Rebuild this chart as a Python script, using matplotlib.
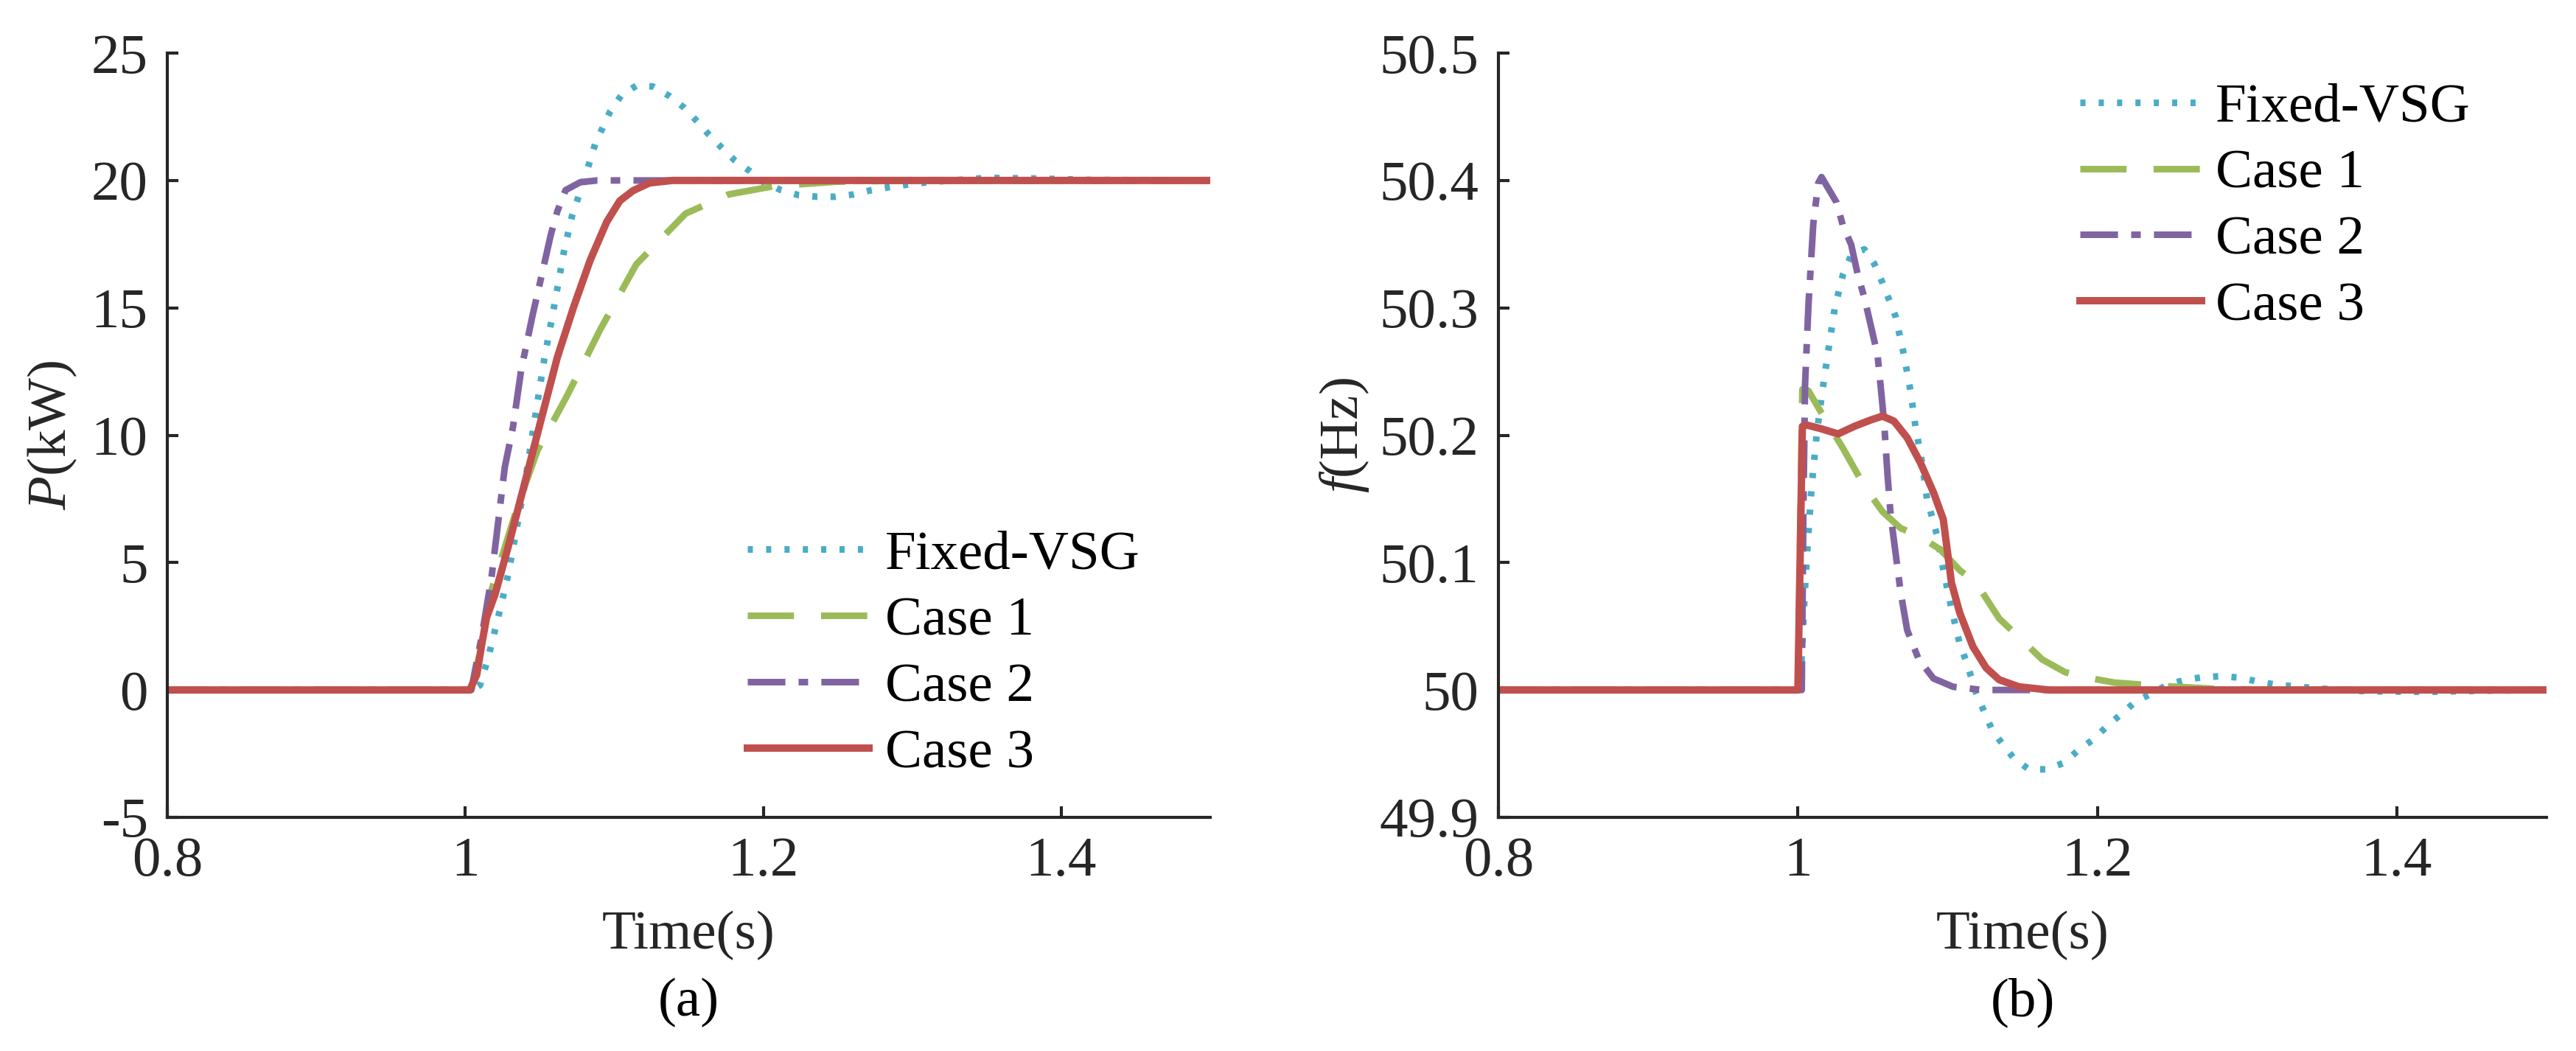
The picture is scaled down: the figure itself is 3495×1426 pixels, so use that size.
import matplotlib
matplotlib.use("Agg")
from matplotlib import pyplot as plt

# ---- data ----
# (a) active power P (kW)
t_p_fixed = [0.8, 1.005, 1.0099, 1.0154, 1.0231, 1.0287, 1.0397, 1.0474, 1.053, 1.0596, 1.0662,
             1.0717, 1.0794, 1.0872, 1.0971, 1.1048, 1.1148, 1.1258, 1.1368, 1.1468, 1.1556,
             1.1633, 1.1722, 1.181, 1.1909, 1.1998, 1.2119, 1.224, 1.2362, 1.2484, 1.2605,
             1.2727, 1.2837, 1.296, 1.309, 1.3223, 1.35, 1.38, 1.42, 1.5]
p_fixed = [0, 0, 0.19, 1.27, 3.1, 4.51, 8.0, 10.9, 12.98, 15.05, 17.21,
           18.62, 19.95, 21.44, 22.69, 23.35, 23.72, 23.69, 23.32, 22.86, 22.32,
           21.81, 21.28, 20.78, 20.37, 19.95, 19.62, 19.42, 19.36, 19.36, 19.45,
           19.62, 19.73, 19.83, 19.92, 19.98, 20.1, 20.08, 20.02, 20.0]

t_p_case1 = [0.8, 1.004, 1.01, 1.0176, 1.0353, 1.0485, 1.0684, 1.0905, 1.1148, 1.1479,
             1.1766, 1.2075, 1.249, 1.3, 1.5]
p_case1 = [0, 0, 1.5, 3.92, 7.25, 9.41, 11.56, 14.14, 16.71, 18.7,
           19.45, 19.78, 19.95, 20.0, 20.0]

t_p_case2 = [0.8, 1.004, 1.011, 1.0176, 1.0265, 1.032, 1.0375, 1.0452, 1.0507, 1.0574,
             1.0618, 1.0673, 1.0772, 1.0883, 1.5]
p_case2 = [0, 0, 2.1, 4.42, 8.74, 10.32, 12.56, 14.72, 16.13, 17.87,
           18.79, 19.62, 19.93, 20.0, 20.0]

t_p_case3 = [0.8, 1.003, 1.0077, 1.011, 1.0143, 1.02, 1.0287, 1.0397, 1.0507, 1.0618,
             1.0728, 1.0839, 1.0949, 1.1037, 1.1126, 1.1236, 1.139, 1.5]
p_case3 = [0, 0, 0.6, 1.77, 2.85, 3.76, 5.6, 8.08, 10.57, 13.06,
           15.05, 16.88, 18.37, 19.2, 19.6, 19.9, 20.0, 20.0]

# (b) frequency f (Hz)
t_f_fixed = [0.8, 1.0015, 1.0026, 1.0048, 1.0066, 1.0092, 1.0125, 1.0158, 1.0191, 1.0246,
             1.0301, 1.0356, 1.0444, 1.051, 1.0565, 1.0653, 1.0708, 1.0752, 1.0785, 1.0829,
             1.0862, 1.0928, 1.0972, 1.1026, 1.1081, 1.1125, 1.1191, 1.1301, 1.1444, 1.1543,
             1.1664, 1.1774, 1.1873, 1.1971, 1.206, 1.2158, 1.2257, 1.2367, 1.2466, 1.2587,
             1.2708, 1.2828, 1.2949, 1.3081, 1.3202, 1.35, 1.38, 1.42, 1.46, 1.5]
f_fixed = [50.0, 50.0, 50.029, 50.0806, 50.1154, 50.16, 50.2, 50.23, 50.2566, 50.2997,
           50.326, 50.3413, 50.346, 50.3346, 50.3197, 50.293, 50.2632, 50.235, 50.207, 50.1785,
           50.1503, 50.122, 50.094, 50.0639, 50.036, 50.0224, 49.9975, 49.9676, 49.946, 49.9377,
           49.9377, 49.9427, 49.9527, 49.961, 49.971, 49.981, 49.991, 49.9975, 50.004, 50.008,
           50.0101, 50.0108, 50.0097, 50.0064, 50.004, 50.001, 49.999, 49.9985, 49.9995, 50.0]

t_f_case1 = [0.8, 1.0, 1.003, 1.007, 1.018, 1.03, 1.0444, 1.0565, 1.0686, 1.0807, 1.095,
             1.1081, 1.1191, 1.1345, 1.1499, 1.1631, 1.1784, 1.1916, 1.2114, 1.2378, 1.2773,
             1.32, 1.5]
f_case1 = [50.0, 50.0, 50.236, 50.235, 50.213, 50.19, 50.16, 50.14, 50.127, 50.121, 50.1104,
           50.094, 50.084, 50.056, 50.039, 50.024, 50.014, 50.01, 50.0058, 50.0035, 50.001,
           50.0, 50.0]

t_f_case2 = [0.8, 1.0, 1.0026, 1.0037, 1.0048, 1.0071, 1.0103, 1.0136, 1.0158, 1.0257,
             1.0301, 1.0356, 1.04, 1.0444, 1.0499, 1.0532, 1.0554, 1.0576, 1.0598, 1.062,
             1.0653, 1.0686, 1.073, 1.0807, 1.0906, 1.1037, 1.1235, 1.5]
f_case2 = [50.0, 50.0, 50.0, 50.1436, 50.24, 50.303, 50.366, 50.398, 50.4027, 50.383,
           50.3645, 50.3496, 50.326, 50.308, 50.28, 50.263, 50.237, 50.21, 50.17, 50.137,
           50.107, 50.077, 50.047, 50.024, 50.009, 50.0025, 50.0, 50.0]

t_f_case3 = [0.8, 1.0, 1.003, 1.0059, 1.0158, 1.0268, 1.0378, 1.0488, 1.0565, 1.0642,
             1.073, 1.0818, 1.0906, 1.0971, 1.0993, 1.1026, 1.1081, 1.1169, 1.1257, 1.1345,
             1.1477, 1.1675, 1.5]
f_case3 = [50.0, 50.0, 50.207, 50.208, 50.205, 50.201, 50.207, 50.212, 50.215, 50.211,
           50.198, 50.1785, 50.155, 50.134, 50.114, 50.084, 50.0606, 50.034, 50.0174, 50.008,
           50.0025, 50.0, 50.0]

x_ticks = [0.8, 1.0, 1.2, 1.4]
x_ticklabels = ["0.8", "1", "1.2", "1.4"]
p_ticks = [-5, 0, 5, 10, 15, 20, 25]
p_ticklabels = ["-5", "0", "5", "10", "15", "20", "25"]
f_ticks = [49.9, 50.0, 50.1, 50.2, 50.3, 50.4, 50.5]
f_ticklabels = ["49.9", "50", "50.1", "50.2", "50.3", "50.4", "50.5"]

labels = ["Fixed-VSG", "Case 1", "Case 2", "Case 3"]
colors = ["#4BACC6", "#9BBB59", "#8064A2", "#C0504D"]
dashes = [(0.78, 2.0), (7.0, 4.1), (5.7, 2.0, 1.45, 2.0), None]
widths = [2.15, 2.15, 2.15, 2.4]

SERIF = "Liberation Serif"
plt.rcParams["font.family"] = "serif"
plt.rcParams["font.serif"] = [SERIF, "DejaVu Serif"]
plt.rcParams["mathtext.fontset"] = "custom"
plt.rcParams["mathtext.rm"] = SERIF
plt.rcParams["mathtext.it"] = SERIF + ":italic"
plt.rcParams["axes.unicode_minus"] = False

W, H = 3495, 1426
fig = plt.figure(figsize=(W / 300, H / 300), dpi=300)
ax1 = fig.add_axes([227 / W, 1 - 1109 / H, 1415 / W, 1037 / H])
ax2 = fig.add_axes([2033 / W, 1 - 1109 / H, 1422 / W, 1037 / H])

series_a = [(t_p_fixed, p_fixed), (t_p_case1, p_case1), (t_p_case2, p_case2), (t_p_case3, p_case3)]
series_b = [(t_f_fixed, f_fixed), (t_f_case1, f_case1), (t_f_case2, f_case2), (t_f_case3, f_case3)]

tick_font = {"family": SERIF, "size": 18.5}
leg_font = {"family": SERIF, "size": 18}

for ax, series in [(ax1, series_a), (ax2, series_b)]:
    for (x, y), lab, c, d, lw in zip(series, labels, colors, dashes, widths):
        line, = ax.plot(x, y, color=c, lw=lw, label=lab, solid_joinstyle="round")
        if d is not None:
            line.set_dashes(d)
    for s in ["top", "right"]:
        ax.spines[s].set_visible(False)
    for s in ["left", "bottom"]:
        ax.spines[s].set_linewidth(1.0)
        ax.spines[s].set_color("#262626")
    ax.tick_params(direction="in", length=3.6, width=1.0, colors="#262626", pad=6.3)
    ax.set_xlim(0.8, 1.5)
    ax.set_xticks(x_ticks)
    ax.set_xticklabels(x_ticklabels, fontdict=tick_font)
    ax.set_xlabel("Time(s)", fontsize=18, family=SERIF, color="#262626")
    ax.xaxis.set_label_coords(0.5, -0.122)

ax1.set_ylim(-5, 25)
ax1.set_yticks(p_ticks)
ax1.set_yticklabels(p_ticklabels, fontdict=tick_font)
ax1.set_ylabel("$P$(kW)", fontsize=18, color="#262626")
ax1.yaxis.set_label_coords(-0.0848, 0.5)
ax1.text(0.5, -0.242, "(a)", transform=ax1.transAxes, ha="center", va="center",
         fontsize=18, family=SERIF)
ax1.legend(loc="upper left", bbox_to_anchor=(0.556, 0.376), frameon=False, prop=leg_font,
           handlelength=2.2, handletextpad=0.3, labelspacing=0.285, borderpad=0,
           borderaxespad=0)

ax2.set_ylim(49.9, 50.5)
ax2.set_yticks(f_ticks)
ax2.set_yticklabels(f_ticklabels, fontdict=tick_font)
ax2.set_ylabel("$f$(Hz)", fontsize=18, color="#262626")
ax2.yaxis.set_label_coords(-0.1217, 0.5)
ax2.text(0.5, -0.242, "(b)", transform=ax2.transAxes, ha="center", va="center",
         fontsize=18, family=SERIF)
ax2.legend(loc="upper left", bbox_to_anchor=(0.555, 0.961), frameon=False, prop=leg_font,
           handlelength=2.2, handletextpad=0.25, labelspacing=0.285, borderpad=0,
           borderaxespad=0)

fig.savefig("out.png", dpi=300)
